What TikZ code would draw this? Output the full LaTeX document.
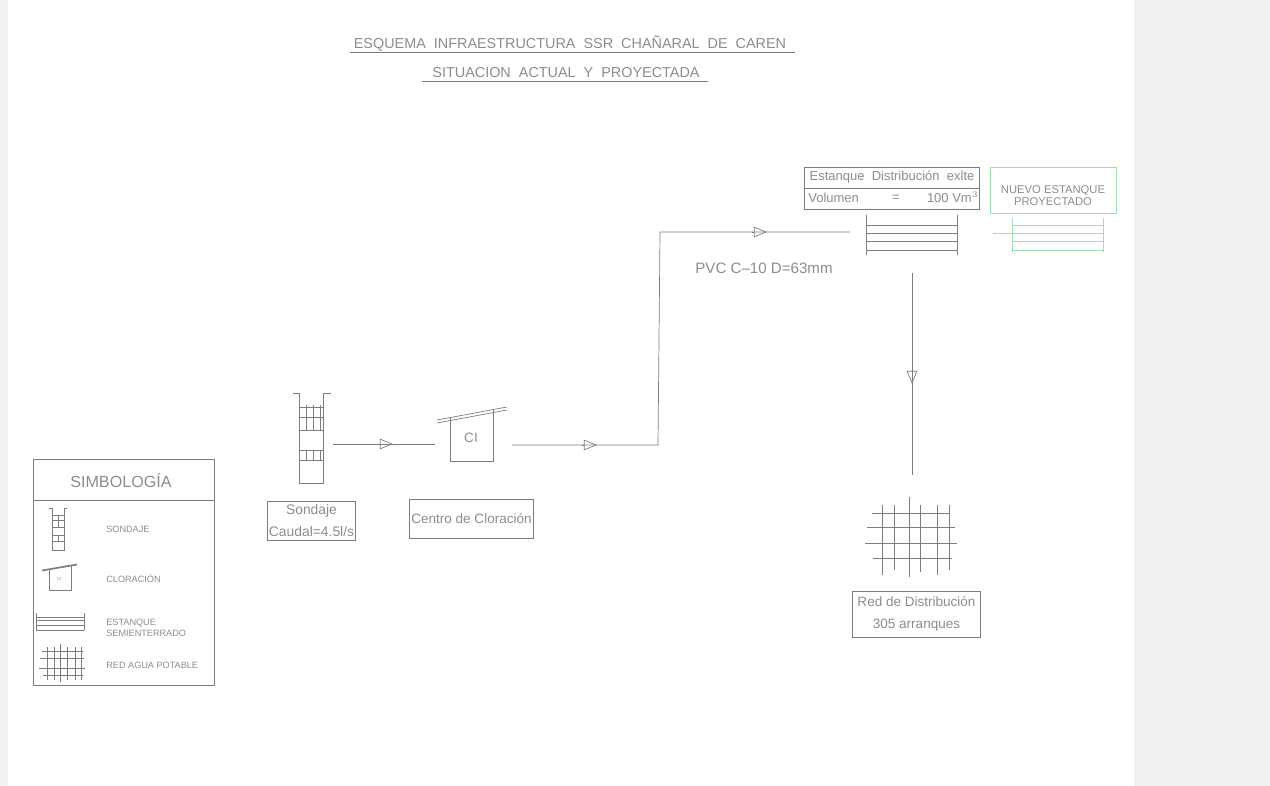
\documentclass[tikz,border=0pt]{standalone}
\usepackage{fontspec}
\setmainfont{Liberation Sans}
\usepackage{xcolor}
\usetikzlibrary{arrows.meta}
\definecolor{cadGray}{RGB}{125, 125, 125}
\definecolor{cadText}{RGB}{140, 140, 140}
\definecolor{cadGreen}{RGB}{165, 222, 170}
\definecolor{cadPanel}{RGB}{240, 240, 240}
\definecolor{cadEdge}{RGB}{243, 243, 243}
\tikzset{
    cadline/.style={draw=cadGray, line width=0.4pt},
    newline/.style={draw=cadGreen, line width=0.4pt},
    flow/.style={cadline, -{Triangle[open, length=7.5pt, width=6pt]}},
    cadtext/.style={text=cadText, inner sep=0pt, font=\fontsize{7.7}{12.5}\selectfont, align=center},
    smalltext/.style={text=cadText, inner sep=0pt, font=\fontsize{5.2}{6.2}\selectfont, align=left, anchor=west}
}

\begin{document}
\begin{tikzpicture}[x=0.02cm, y=-0.02cm]
    \useasboundingbox (0,0) rectangle (1270,786);
    \fill[cadEdge] (0,0) rectangle (8,786);
    \fill[cadPanel] (1134,0) rectangle (1270,786);

    % titulo
    \node[cadtext, font=\fontsize{8.2}{9}\selectfont] (titulo) at (570,44) {ESQUEMA\ \ INFRAESTRUCTURA\ \ SSR\ \ CHAÑARAL\ \ DE\ \ CAREN};
    \node[cadtext, font=\fontsize{8.2}{9}\selectfont] (subtitulo) at (566,73) {SITUACION\ \ ACTUAL\ \ Y\ \ PROYECTADA};
    \draw[cadline] (350,52) -- (795,52);
    \draw[cadline] (422,81) -- (708,81);

    % sondaje
    \draw[cadline] (293,393) -- (299,393) -- (299,483) -- (323,483) -- (323,393) -- (331,393);
    \draw[cadline] (299,407) -- (323,407) (299,417) -- (323,417) (299,430) -- (323,430);
    \draw[cadline] (306,405) -- (306,430) (313,405) -- (313,430) (320,405) -- (320,430);
    \draw[cadline] (299,450) -- (323,450) (299,460) -- (323,460);
    \draw[cadline] (306,450) -- (306,460) (313,450) -- (313,460) (320,450) -- (320,460);
    \node[cadline, draw, minimum width=89*0.567pt, minimum height=39*0.567pt, cadtext, font=\fontsize{7.9}{12.5}\selectfont] (sondaje) at (311.5,520.5) {Sondaje\\Caudal=4.5l/s};

    % cloracion
    \draw[cadline] (450,418) -- (450,461) -- (493,461) -- (493,410);
    \draw[cadline] (437,420) -- (507,407) (437,423) -- (507,410);
    \node[cadtext] (ci) at (471,438) {CI};
    \node[cadline, draw, minimum width=125*0.567pt, minimum height=39*0.567pt, cadtext] (centro) at (471.5,518.5) {Centro de Cloración};

    % conducciones
    \coordinate (s1) at (333,444);
    \coordinate (s2) at (378,444);
    \coordinate (s3) at (393,444);
    \coordinate (s4) at (435,444);
    \coordinate (c1) at (512,445);
    \coordinate (c2) at (582,445);
    \coordinate (c3) at (597,445);
    \coordinate (c4) at (658,445);
    \coordinate (c5) at (660,232);
    \coordinate (c6) at (752,232);
    \coordinate (c7) at (767,232);
    \coordinate (c8) at (850,232);
    \coordinate (d1) at (912,273);
    \coordinate (d2) at (912,369);
    \coordinate (d3) at (912,384);
    \coordinate (d4) at (912,475);
    \draw[cadline] (s1) -- (s4);
    \draw[flow] (s2) -- (s3);
    \draw[cadline] (c1) -- (c4) -- (c5) -- (c8);
    \draw[flow] (c2) -- (c3);
    \draw[flow] (c6) -- (c7);
    \draw[cadline] (d1) -- (d4);
    \draw[flow] (d2) -- (d3);
    \node[cadtext, font=\fontsize{8.6}{9}\selectfont] (pvc) at (764,268) {PVC C--10 D=63mm};

    % estanque existente
    \node[cadline, draw, minimum width=176*0.567pt, minimum height=42*0.567pt] (estanque) at (892,188) {};
    \draw[cadline] (estanque.west) -- (estanque.east);
    \node[cadtext, font=\fontsize{7.4}{8}\selectfont] (estanquetxt) at (892,177) {Estanque\ \ Distribución\ \ exlte};
    \node[cadtext, font=\fontsize{7.4}{8}\selectfont, anchor=west] (volumen) at (808,198) {Volumen};
    \node[cadtext, font=\fontsize{7.4}{8}\selectfont] (igual) at (896,198) {=};
    \node[cadtext, font=\fontsize{7.4}{8}\selectfont, anchor=east] (cien) at (979,197) {100 Vm$^3$};
    \draw[cadline] (866,215) -- (866,255) (957,215) -- (957,255);
    \draw[cadline] (866,225) -- (957,225) (866,233) -- (957,233) (866,241) -- (957,241) (866,250) -- (957,250);

    % estanque proyectado
    \node[newline, draw, minimum width=127*0.567pt, minimum height=46*0.567pt] (nuevo) at (1053.5,190) {};
    \node[cadtext, font=\fontsize{6.4}{6.8}\selectfont] (nuevotxt) at (1053,196) {NUEVO ESTANQUE\\PROYECTADO};
    \draw[newline] (993,233) -- (1012,233);
    \draw[newline] (1012,218) -- (1012,252) (1103,218) -- (1103,252);
    \draw[newline] (1012,225) -- (1103,225) (1012,233) -- (1103,233) (1012,241) -- (1103,241) (1012,250) -- (1103,250);

    % red de distribucion
    \draw[cadline] (882,505) -- (882,575) (894,505) -- (894,570) (909,497) -- (909,577) (920,505) -- (920,572) (937,505) -- (937,575) (949,505) -- (949,570);
    \draw[cadline] (872,513) -- (950,513) (867,527) -- (955,527) (865,543) -- (957,543) (873,558) -- (952,558);
    \node[cadline, draw, minimum width=129*0.567pt, minimum height=46*0.567pt, cadtext] (red) at (916.5,614) {Red de Distribución\\305 arranques};

    % simbologia
    \node[cadline, draw, minimum width=182*0.567pt, minimum height=227*0.567pt] (leyenda) at (124,572.5) {};
    \draw[cadline] (33,500) -- (215,500);
    \node[cadtext, font=\fontsize{9.2}{12}\selectfont] (simbologia) at (121,481) {SIMBOLOGÍA};
    \draw[cadline] (49,508) -- (52,508) -- (52,550) -- (64,550) -- (64,508) -- (67,508);
    \draw[cadline] (52,515) -- (64,515) (52,520) -- (64,520) (52,527) -- (64,527) (52,535) -- (64,535) (52,541) -- (64,541);
    \draw[cadline] (58,515) -- (58,527) (58,535) -- (58,541);
    \node[smalltext] (lsondaje) at (106,529) {SONDAJE};
    \draw[cadline] (49,569) -- (49,590) -- (71,590) -- (71,565);
    \draw[cadline] (42,570) -- (77,564) (42,571) -- (77,565);
    \node[smalltext, font=\fontsize{2.5}{3}\selectfont, anchor=center] (lci) at (59,579) {CI};
    \node[smalltext] (lcloracion) at (106,579) {CLORACIÓN};
    \draw[cadline] (36,613) -- (36,630) (84,613) -- (84,630);
    \draw[cadline] (36,617) -- (84,617) (36,620) -- (84,620) (36,625) -- (84,625) (36,630) -- (84,630);
    \node[smalltext] (lestanque) at (106,627.5) {ESTANQUE\\SEMIENTERRADO};
    \draw[cadline] (47,647) -- (47,680) (54,647) -- (54,680) (60,644) -- (60,682) (67,647) -- (67,680) (75,647) -- (75,680) (81,647) -- (81,680);
    \draw[cadline] (42,651) -- (83,651) (40,658) -- (84,658) (39,668) -- (85,668) (43,675) -- (83,675);
    \node[smalltext] (lred) at (106,665) {RED AGUA POTABLE};
\end{tikzpicture}
\end{document}
